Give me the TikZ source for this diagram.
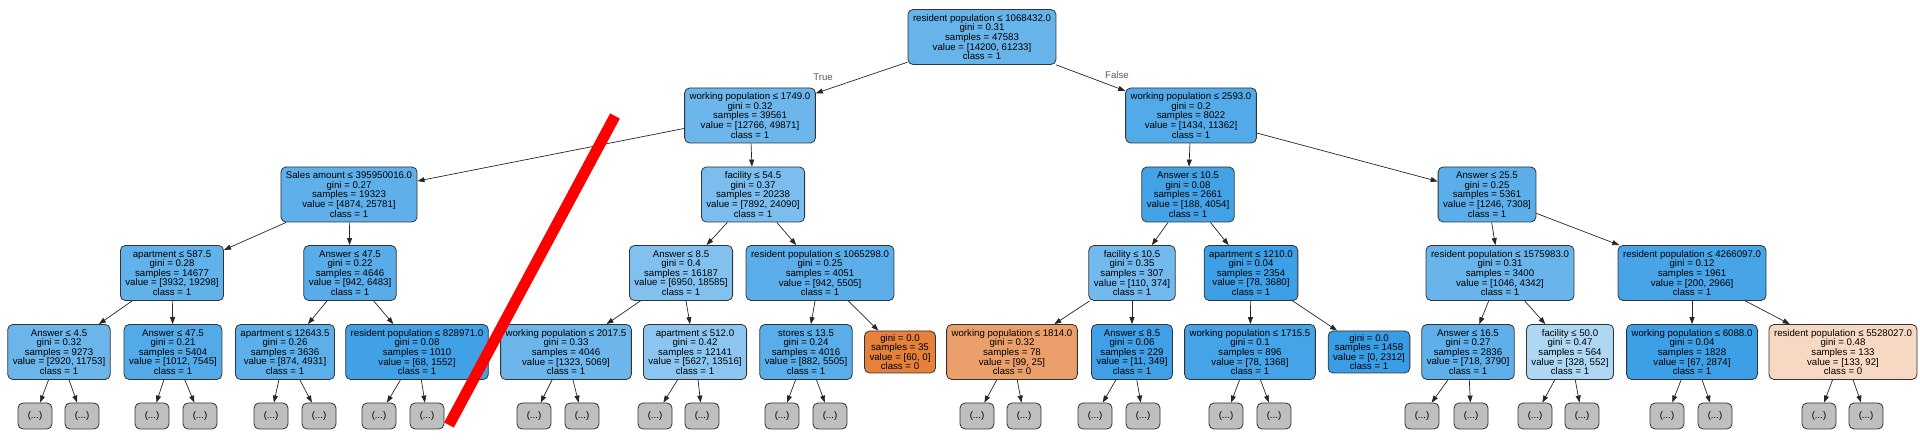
\documentclass[tikz,border=0pt]{standalone}
\usepackage{fontspec}
\setmainfont{Liberation Sans}
\usetikzlibrary{arrows.meta}
\definecolor{skblue}{RGB}{57,157,229}
\definecolor{skorange}{RGB}{229,129,57}

\begin{document}
\begin{tikzpicture}[x = 1pt, y = -1pt,
        split/.style={draw=black!80, line width=0.8pt, rounded corners=5pt, align=center, inner xsep=5pt, inner ysep=2pt, minimum height=55pt, font=\fontsize{9.66}{9.6}\selectfont},
        leaf/.style={split, minimum height=42pt},
        more/.style={split, fill=black!25, minimum width=34pt, minimum height=26pt, inner xsep=2pt},
        link/.style={draw=black!85, line width=0.7pt, -{Triangle[length=7pt, width=5pt]}},
        branch/.style={text=black!65, font=\fontsize{9.66}{9.6}\selectfont}]
        \fill[white] (0,0) rectangle (1920,443);
        \useasboundingbox (0,0) rectangle (1920,443);
        \node (root) at (982,37) [split, fill=skblue!77] {resident population ≤ 1068432.0\\gini = 0.31\\samples = 47583\\value = [14200, 61233]\\class = 1};
        \node (wp1749) at (750,115.5) [split, fill=skblue!74] {working population ≤ 1749.0\\gini = 0.32\\samples = 39561\\value = [12766, 49871]\\class = 1};
        \node (wp2593) at (1191,115.5) [split, fill=skblue!87] {working population ≤ 2593.0\\gini = 0.2\\samples = 8022\\value = [1434, 11362]\\class = 1};
        \node (sales) at (349,194.5) [split, fill=skblue!81] {Sales amount ≤ 395950016.0\\gini = 0.27\\samples = 19323\\value = [4874, 25781]\\class = 1};
        \node (fac545) at (753,194.5) [split, fill=skblue!67] {facility ≤ 54.5\\gini = 0.37\\samples = 20238\\value = [7892, 24090]\\class = 1};
        \node (ans105) at (1188,194.5) [split, fill=skblue!95] {Answer ≤ 10.5\\gini = 0.08\\samples = 2661\\value = [188, 4054]\\class = 1};
        \node (ans255) at (1487,194.5) [split, fill=skblue!83] {Answer ≤ 25.5\\gini = 0.25\\samples = 5361\\value = [1246, 7308]\\class = 1};
        \node (apt5875) at (172,273) [split, fill=skblue!80] {apartment ≤ 587.5\\gini = 0.28\\samples = 14677\\value = [3932, 19298]\\class = 1};
        \node (ans475) at (350,273) [split, fill=skblue!85] {Answer ≤ 47.5\\gini = 0.22\\samples = 4646\\value = [942, 6483]\\class = 1};
        \node (ans85) at (681,273) [split, fill=skblue!63] {Answer ≤ 8.5\\gini = 0.4\\samples = 16187\\value = [6950, 18585]\\class = 1};
        \node (rp1065) at (820,273) [split, fill=skblue!83] {resident population ≤ 1065298.0\\gini = 0.25\\samples = 4051\\value = [942, 5505]\\class = 1};
        \node (fac105) at (1132,273) [split, fill=skblue!71] {facility ≤ 10.5\\gini = 0.35\\samples = 307\\value = [110, 374]\\class = 1};
        \node (apt1210) at (1251,273) [split, fill=skblue!98] {apartment ≤ 1210.0\\gini = 0.04\\samples = 2354\\value = [78, 3680]\\class = 1};
        \node (rp1575) at (1500,273) [split, fill=skblue!76] {resident population ≤ 1575983.0\\gini = 0.31\\samples = 3400\\value = [1046, 4342]\\class = 1};
        \node (rp4266) at (1692,273) [split, fill=skblue!93] {resident population ≤ 4266097.0\\gini = 0.12\\samples = 1961\\value = [200, 2966]\\class = 1};
        \node (ans45) at (59,352) [split, fill=skblue!75] {Answer ≤ 4.5\\gini = 0.32\\samples = 9273\\value = [2920, 11753]\\class = 1};
        \node (ans475b) at (173,352) [split, fill=skblue!87] {Answer ≤ 47.5\\gini = 0.21\\samples = 5404\\value = [1012, 7545]\\class = 1};
        \node (apt12643) at (285,352) [split, fill=skblue!82] {apartment ≤ 12643.5\\gini = 0.26\\samples = 3636\\value = [874, 4931]\\class = 1};
        \node (rp828) at (417,352) [split, fill=skblue!96] {resident population ≤ 828971.0\\gini = 0.08\\samples = 1010\\value = [68, 1552]\\class = 1};
        \node (wp2017) at (566,352) [split, fill=skblue!74] {working population ≤ 2017.5\\gini = 0.33\\samples = 4046\\value = [1323, 5069]\\class = 1};
        \node (apt512) at (695,352) [split, fill=skblue!58] {apartment ≤ 512.0\\gini = 0.42\\samples = 12141\\value = [5627, 13516]\\class = 1};
        \node (st135) at (806,352) [split, fill=skblue!84] {stores ≤ 13.5\\gini = 0.24\\samples = 4016\\value = [882, 5505]\\class = 1};
        \node (leaf35) at (900,352) [leaf, fill=skorange] {gini = 0.0\\samples = 35\\value = [60, 0]\\class = 0};
        \node (wp1814) at (1012,352) [split, fill=skorange!75] {working population ≤ 1814.0\\gini = 0.32\\samples = 78\\value = [99, 25]\\class = 0};
        \node (ans85b) at (1132,352) [split, fill=skblue!97] {Answer ≤ 8.5\\gini = 0.06\\samples = 229\\value = [11, 349]\\class = 1};
        \node (wp1715) at (1250,352) [split, fill=skblue!94] {working population ≤ 1715.5\\gini = 0.1\\samples = 896\\value = [78, 1368]\\class = 1};
        \node (leaf1458) at (1369,352) [leaf, fill=skblue] {gini = 0.0\\samples = 1458\\value = [0, 2312]\\class = 1};
        \node (ans165) at (1468,352) [split, fill=skblue!81] {Answer ≤ 16.5\\gini = 0.27\\samples = 2836\\value = [718, 3790]\\class = 1};
        \node (fac50) at (1570,352) [split, fill=skblue!41] {facility ≤ 50.0\\gini = 0.47\\samples = 564\\value = [328, 552]\\class = 1};
        \node (wp6088) at (1692,352) [split, fill=skblue!98] {working population ≤ 6088.0\\gini = 0.04\\samples = 1828\\value = [67, 2874]\\class = 1};
        \node (rp5528) at (1843,352) [split, fill=skorange!31] {resident population ≤ 5528027.0\\gini = 0.48\\samples = 133\\value = [133, 92]\\class = 0};
        \node (d1) at (35,416) [more] {(...)};
        \node (d2) at (82,416) [more] {(...)};
        \node (d3) at (152,416) [more] {(...)};
        \node (d4) at (200,416) [more] {(...)};
        \node (d5) at (271,416) [more] {(...)};
        \node (d6) at (319,416) [more] {(...)};
        \node (d7) at (379,416) [more] {(...)};
        \node (d8) at (427,416) [more] {(...)};
        \node (d9) at (534,416) [more] {(...)};
        \node (d10) at (582,416) [more] {(...)};
        \node (d11) at (655,416) [more] {(...)};
        \node (d12) at (702,416) [more] {(...)};
        \node (d13) at (782,416) [more] {(...)};
        \node (d14) at (830,416) [more] {(...)};
        \node (d15) at (977,416) [more] {(...)};
        \node (d16) at (1024,416) [more] {(...)};
        \node (d17) at (1095,416) [more] {(...)};
        \node (d18) at (1143,416) [more] {(...)};
        \node (d19) at (1226,416) [more] {(...)};
        \node (d20) at (1274,416) [more] {(...)};
        \node (d21) at (1422,416) [more] {(...)};
        \node (d22) at (1471,416) [more] {(...)};
        \node (d23) at (1535,416) [more] {(...)};
        \node (d24) at (1582,416) [more] {(...)};
        \node (d25) at (1667,416) [more] {(...)};
        \node (d26) at (1715,416) [more] {(...)};
        \node (d27) at (1819,416) [more] {(...)};
        \node (d28) at (1866,416) [more] {(...)};
        \node (true) at (823,77) [branch] {True};
        \node (false) at (1117,75) [branch] {False};
        \draw [link] (root) -- (wp1749);
        \draw [link] (root) -- (wp2593);
        \draw [link] (wp1749) -- (sales);
        \draw [link] (wp1749) -- (fac545);
        \draw [link] (wp2593) -- (ans105);
        \draw [link] (wp2593) -- (ans255);
        \draw [link] (sales) -- (apt5875);
        \draw [link] (sales) -- (ans475);
        \draw [link] (fac545) -- (ans85);
        \draw [link] (fac545) -- (rp1065);
        \draw [link] (ans105) -- (fac105);
        \draw [link] (ans105) -- (apt1210);
        \draw [link] (ans255) -- (rp1575);
        \draw [link] (ans255) -- (rp4266);
        \draw [link] (apt5875) -- (ans45);
        \draw [link] (apt5875) -- (ans475b);
        \draw [link] (ans475) -- (apt12643);
        \draw [link] (ans475) -- (rp828);
        \draw [link] (ans85) -- (wp2017);
        \draw [link] (ans85) -- (apt512);
        \draw [link] (rp1065) -- (st135);
        \draw [link] (rp1065) -- (leaf35);
        \draw [link] (fac105) -- (wp1814);
        \draw [link] (fac105) -- (ans85b);
        \draw [link] (apt1210) -- (wp1715);
        \draw [link] (apt1210) -- (leaf1458);
        \draw [link] (rp1575) -- (ans165);
        \draw [link] (rp1575) -- (fac50);
        \draw [link] (rp4266) -- (wp6088);
        \draw [link] (rp4266) -- (rp5528);
        \draw [link] (ans45) -- (d1);
        \draw [link] (ans45) -- (d2);
        \draw [link] (ans475b) -- (d3);
        \draw [link] (ans475b) -- (d4);
        \draw [link] (apt12643) -- (d5);
        \draw [link] (apt12643) -- (d6);
        \draw [link] (rp828) -- (d7);
        \draw [link] (rp828) -- (d8);
        \draw [link] (wp2017) -- (d9);
        \draw [link] (wp2017) -- (d10);
        \draw [link] (apt512) -- (d11);
        \draw [link] (apt512) -- (d12);
        \draw [link] (st135) -- (d13);
        \draw [link] (st135) -- (d14);
        \draw [link] (wp1814) -- (d15);
        \draw [link] (wp1814) -- (d16);
        \draw [link] (ans85b) -- (d17);
        \draw [link] (ans85b) -- (d18);
        \draw [link] (wp1715) -- (d19);
        \draw [link] (wp1715) -- (d20);
        \draw [link] (ans165) -- (d21);
        \draw [link] (ans165) -- (d22);
        \draw [link] (fac50) -- (d23);
        \draw [link] (fac50) -- (d24);
        \draw [link] (wp6088) -- (d25);
        \draw [link] (wp6088) -- (d26);
        \draw [link] (rp5528) -- (d27);
        \draw [link] (rp5528) -- (d28);
        \coordinate (cut top) at (615,116);
        \coordinate (cut bottom) at (449,425);
        \draw [red, line width=11pt] (cut top) -- (cut bottom);
    \end{tikzpicture}
\end{document}
